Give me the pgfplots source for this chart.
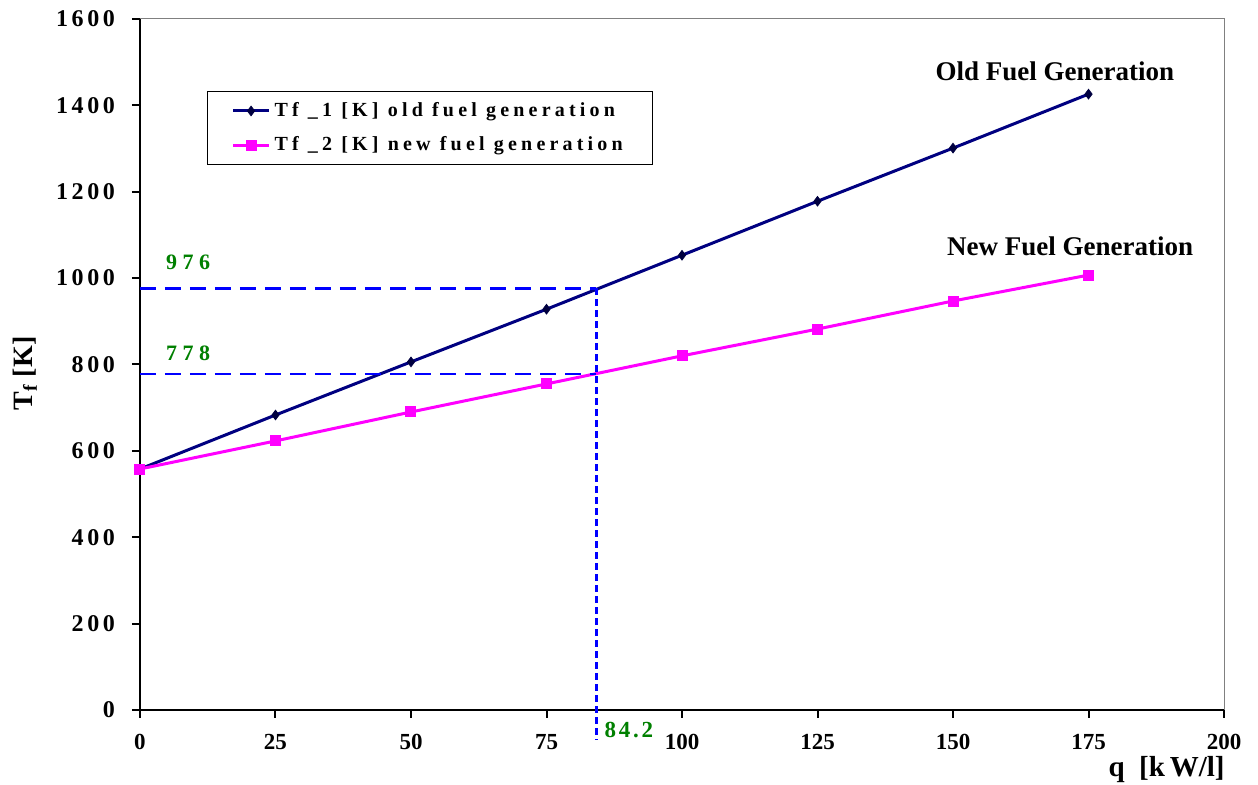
\documentclass[border=0pt]{standalone}
\usepackage{pgfplots}
\pgfplotsset{compat=1.18}
\usepackage{fontspec}
\setmainfont{Liberation Serif}
\newfontfamily\spc[LetterSpace=15]{Liberation Serif}
\newfontfamily\spl[LetterSpace=25]{Liberation Serif}
\newfontfamily\spk[LetterSpace=12]{Liberation Serif}
\newfontfamily\spg[LetterSpace=21]{Liberation Serif}
\definecolor{navy}{RGB}{0,0,128}
\definecolor{mag}{RGB}{255,0,255}
\definecolor{dgreen}{RGB}{0,128,0}
\definecolor{dblue}{RGB}{0,0,255}
\begin{document}
\begin{tikzpicture}
\begin{axis}[
  scale only axis, width=542pt, height=345.5pt,
  at={(0,0)}, anchor=south west,
  xmin=0, xmax=200, ymin=0, ymax=1600,
  xtick={0,25,...,200}, ytick={0,200,...,1600},
  axis lines*=left,
  axis line style={-, line width=1.2pt, black},
  tick align=outside, major tick length=4pt,
  tick style={line width=1pt, black},
  clip=false,
  /pgf/number format/assume math mode=true,
  /pgf/number format/1000 sep={},
  xticklabel style={font=\bfseries\fontsize{11.5}{13}\selectfont, yshift=-4.5pt},
  yticklabel style={font=\spc\bfseries\fontsize{12}{14}\selectfont, xshift=-5pt},
  xlabel={}, ylabel={\textbf{T\textsubscript{f} [K]}},
  ylabel style={at={(axis description cs:-0.106,0.487)}, anchor=center, font=\fontsize{14}{16}\selectfont},
  legend style={at={(axis description cs:0.0618,0.896)}, anchor=north west, draw=black, line width=0.6pt,
    font=\spg\bfseries\fontsize{10}{11}\selectfont, row sep=4.5pt, inner xsep=12pt, inner ysep=3.5pt},
  legend cell align=left,
  legend image code/.code={\draw[mark repeat=2,mark phase=2,#1] plot coordinates {(0pt,0pt) (9pt,0pt) (18pt,0pt)};},
]
\addplot[navy, line width=1.5pt, mark=diamond*, mark size=2.4pt, mark options={fill=navy!50!black, draw=navy!50!black, line width=0.4pt}]
  coordinates {(0,558) (25,683) (50,806) (75,928) (100,1053) (125,1178) (150,1301) (175,1426)};
\addlegendentry{\makebox[175pt][l]{Tf \_1 [K] old fuel generation}}
\addplot[mag, line width=1.5pt, mark=square*, mark size=2pt, mark options={fill=mag, draw=mag}]
  coordinates {(0,558) (25,623) (50,690) (75,755) (100,820) (125,882) (150,947) (175,1007)};
\addlegendentry{\makebox[175pt][l]{Tf \_2 [K] new fuel generation}}
\addplot[dblue, line width=1.5pt, dash pattern=on 8pt off 4.5pt, forget plot] coordinates {(0,976) (84.2,976)};
\addplot[dblue, line width=1.2pt, dash pattern=on 8pt off 4.5pt, forget plot] coordinates {(0,778) (84.2,778)};
\addplot[dblue, line width=1.2pt, dash pattern=on 3.5pt off 2pt, forget plot] coordinates {(84.2,976) (84.2,-70)};
\draw[gray, line width=0.5pt] (rel axis cs:0,1) -- (rel axis cs:1,1) -- (rel axis cs:1,0);
\node[dgreen, font=\spl\bfseries\fontsize{11}{13}\selectfont] at (axis cs:8.9,1037) {976};
\node[dgreen, font=\spl\bfseries\fontsize{11}{13}\selectfont] at (axis cs:8.9,826) {778};
\node[dgreen, font=\spk\bfseries\fontsize{11.5}{13}\selectfont, anchor=west] at (axis cs:84.4,-47) {84.2};
\node[font=\bfseries\fontsize{14.5}{17}\selectfont] at (axis cs:189.4,-138) {q\ \ [k\,W/l]};
\node[font=\bfseries\fontsize{13.5}{16}\selectfont] at (axis cs:168.8,1479) {Old Fuel Generation};
\node[font=\bfseries\fontsize{13.5}{16}\selectfont] at (axis cs:171.6,1074) {New Fuel Generation};
\end{axis}
\pgfresetboundingbox
\path[use as bounding box] (-70pt,-37.5pt) rectangle (559pt,355pt);
\end{tikzpicture}
\end{document}
